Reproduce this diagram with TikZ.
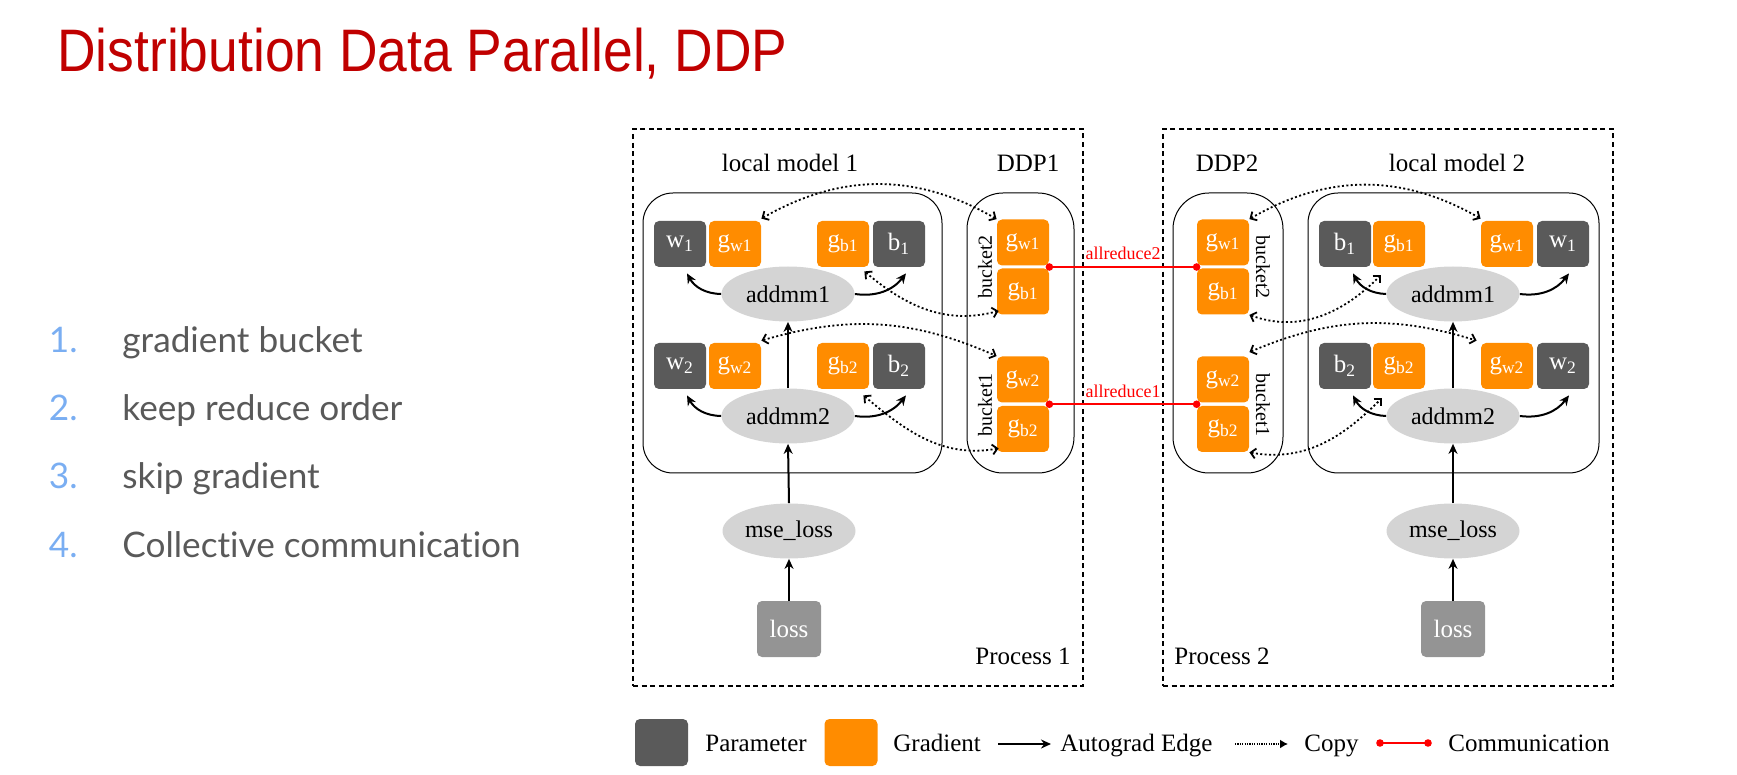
\documentclass[tikz,border=0pt]{standalone}
\usepackage{graphicx}
\usepackage{xcolor}
\usepackage{fontspec}
\setmainfont{Liberation Serif}
\newfontfamily\titlefont{Liberation Sans}
\newfontfamily\listfont[Ligatures=NoCommon]{Lato}
\usepackage{tikz}
\usetikzlibrary{shapes,arrows.meta,calc}

\definecolor{paramgray}{RGB}{90,90,90}
\definecolor{gradorange}{RGB}{255,140,0}
\definecolor{opgray}{RGB}{212,212,212}
\definecolor{lossgray}{RGB}{148,148,148}
\definecolor{titlered}{RGB}{192,0,0}
\definecolor{listblue}{RGB}{122,174,242}
\definecolor{listgray}{RGB}{89,89,89}
\definecolor{commred}{RGB}{255,0,0}

\tikzstyle{param} = [rectangle, rounded corners=2.5pt, fill=paramgray, text=white, minimum width=26pt, minimum height=23pt, inner sep=0pt, font=\fontsize{12.5}{14}\selectfont]
\tikzstyle{grad} = [param, fill=gradorange]
\tikzstyle{op} = [ellipse, fill=opgray, minimum width=66.5pt, minimum height=27.5pt, inner sep=0pt, font=\fontsize{12}{14}\selectfont]
\tikzstyle{lossbox} = [param, fill=lossgray, minimum width=32pt, minimum height=28pt]
\tikzstyle{group} = [rectangle, draw, line width=0.5pt, inner sep=0pt, minimum height=140pt]
\tikzstyle{process} = [rectangle, draw, line width=1pt, dash pattern=on 2.5pt off 1.8pt, inner sep=0pt, minimum width=225pt, minimum height=278.5pt]
\tikzstyle{txt} = [inner sep=0pt, font=\fontsize{12.5}{14}\selectfont]
\tikzstyle{bucketname} = [inner sep=0pt, font=\fontsize{10}{12}\selectfont]
\tikzstyle{autograd} = [draw, line width=1pt, -{Stealth[length=5pt,width=4.5pt]}]
\tikzstyle{copyedge} = [draw, line width=0.9pt, dash pattern=on 1pt off 1.2pt, {Straight Barb[length=2.5pt,width=5pt]}-{Straight Barb[length=2.5pt,width=5pt]}]
\tikzstyle{legcopy} = [draw, line width=0.8pt, dash pattern=on 0.6pt off 0.6pt, -{Latex[length=4pt,width=4.5pt]}]
\tikzstyle{comm} = [draw=commred, line width=1pt]
\tikzstyle{listnum} = [anchor=base east, inner sep=0pt, text=listblue, font=\listfont\fontsize{17.6}{20}\selectfont]
\tikzstyle{listitem} = [anchor=base west, inner sep=0pt, text=listgray, font=\listfont\fontsize{17.6}{20}\selectfont]

\begin{document}
\begin{tikzpicture}[x=0.5pt, y=0.5pt]
\useasboundingbox (0,0) rectangle (1737,-775);

\node [anchor=base west, inner sep=0pt, text=titlered, font=\titlefont\fontsize{30}{33}\selectfont] (title) at (57,-72) {\scalebox{0.89}[1]{Distribution Data Parallel, DDP}};

\node [listnum] (n1) at (78,-353) {1.};
\node [listitem] (i1) at (122,-353) {gradient bucket};
\node [listnum] (n2) at (78,-421) {2.};
\node [listitem] (i2) at (122,-421) {keep reduce order};
\node [listnum] (n3) at (78,-488) {3.};
\node [listitem] (i3) at (122,-488) {skip gradient};
\node [listnum] (n4) at (78,-558) {4.};
\node [listitem] (i4) at (122,-558) {Collective communication};

\node [process] (proc1) at (858,-407.5) {};
\node [process] (proc2) at (1388,-407.5) {};
\node [txt, anchor=east] (proc1Txt) at (1071,-656) {Process 1};
\node [txt, anchor=west] (proc2Txt) at (1174,-656) {Process 2};

\node [group, rounded corners=15pt, minimum width=149.5pt] (lm1) at (792.5,-333) {};
\node [group, rounded corners=18pt, minimum width=53.5pt] (ddp1) at (1020.5,-333) {};
\node [group, rounded corners=18pt, minimum width=55pt] (ddp2) at (1228,-333) {};
\node [group, rounded corners=15pt, minimum width=145.5pt] (lm2) at (1453.5,-333) {};
\node [txt] (lm1Txt) at (790,-163) {local model 1};
\node [txt] (ddp1Txt) at (1028,-163) {DDP1};
\node [txt] (ddp2Txt) at (1227,-163) {DDP2};
\node [txt] (lm2Txt) at (1457,-163) {local model 2};

\node [param] (p1w1) at (680,-244) {w\textsubscript{1}};
\node [grad] (p1gw1) at (735,-244) {g\textsubscript{w1}};
\node [grad] (p1gb1) at (843,-244) {g\textsubscript{b1}};
\node [param] (p1b1) at (899,-244) {b\textsubscript{1}};
\node [op] (p1addmm1) at (788,-294) {addmm1};
\node [param] (p1w2) at (680,-366) {w\textsubscript{2}};
\node [grad] (p1gw2) at (735,-366) {g\textsubscript{w2}};
\node [grad] (p1gb2) at (843,-366) {g\textsubscript{b2}};
\node [param] (p1b2) at (899,-366) {b\textsubscript{2}};
\node [op] (p1addmm2) at (788,-416) {addmm2};
\node [op] (p1mse) at (789,-531) {mse\_loss};
\node [lossbox] (p1loss) at (789,-629) {loss};

\node [grad] (ddp1gw1) at (1023,-242.5) {g\textsubscript{w1}};
\node [grad] (ddp1gb1) at (1023,-291.5) {g\textsubscript{b1}};
\node [grad] (ddp1gw2) at (1023,-379.5) {g\textsubscript{w2}};
\node [grad] (ddp1gb2) at (1023,-429) {g\textsubscript{b2}};
\node [bucketname, rotate=90] (ddp1bk2) at (985,-267) {bucket2};
\node [bucketname, rotate=90] (ddp1bk1) at (985,-405) {bucket1};

\node [grad] (ddp2gw1) at (1223,-242.5) {g\textsubscript{w1}};
\node [grad] (ddp2gb1) at (1223,-291.5) {g\textsubscript{b1}};
\node [grad] (ddp2gw2) at (1223,-379.5) {g\textsubscript{w2}};
\node [grad] (ddp2gb2) at (1223,-429) {g\textsubscript{b2}};
\node [bucketname, rotate=-90] (ddp2bk2) at (1263,-267) {bucket2};
\node [bucketname, rotate=-90] (ddp2bk1) at (1263,-405) {bucket1};

\node [param] (p2b1) at (1345,-244) {b\textsubscript{1}};
\node [grad] (p2gb1) at (1399,-244) {g\textsubscript{b1}};
\node [grad] (p2gw1) at (1507,-244) {g\textsubscript{w1}};
\node [param] (p2w1) at (1563,-244) {w\textsubscript{1}};
\node [op] (p2addmm1) at (1453,-294) {addmm1};
\node [param] (p2b2) at (1345,-366) {b\textsubscript{2}};
\node [grad] (p2gb2) at (1399,-366) {g\textsubscript{b2}};
\node [grad] (p2gw2) at (1507,-366) {g\textsubscript{w2}};
\node [param] (p2w2) at (1563,-366) {w\textsubscript{2}};
\node [op] (p2addmm2) at (1453,-416) {addmm2};
\node [op] (p2mse) at (1453,-531) {mse\_loss};
\node [lossbox] (p2loss) at (1453,-629) {loss};

\path [autograd] (p1addmm1.west) to[bend left=30] ([xshift=3.5pt,yshift=-3pt]p1w1.south);
\path [autograd] (p1addmm1.east) to[bend right=30] ([xshift=3.5pt,yshift=-3pt]p1b1.south);
\path [autograd] (p1addmm2.west) to[bend left=30] ([xshift=3.5pt,yshift=-3pt]p1w2.south);
\path [autograd] (p1addmm2.east) to[bend right=30] ([xshift=3.5pt,yshift=-3pt]p1b2.south);
\path [autograd] (p1addmm2.north) -- (p1addmm1.south);
\path [autograd] (p1mse.north) -- (p1addmm2.south);
\path [autograd] (p1loss.north) -- (p1mse.south);

\path [autograd] (p2addmm1.west) to[bend left=30] ([xshift=4pt,yshift=-3pt]p2b1.south);
\path [autograd] (p2addmm1.east) to[bend right=30] ([xshift=3pt,yshift=-3pt]p2w1.south);
\path [autograd] (p2addmm2.west) to[bend left=30] ([xshift=4pt,yshift=-3pt]p2b2.south);
\path [autograd] (p2addmm2.east) to[bend right=30] ([xshift=3pt,yshift=-3pt]p2w2.south);
\path [autograd] (p2addmm2.north) -- (p2addmm1.south);
\path [autograd] (p2mse.north) -- (p2addmm2.south);
\path [autograd] (p2loss.north) -- (p2mse.south);

\path [copyedge] ([yshift=1pt]p1gw1.north east) to[bend left=30] (ddp1gw1.north west);
\path [copyedge] ([xshift=-2.5pt,yshift=-2pt]p1gb1.south east) to[out=-40,in=195] ([xshift=1pt,yshift=2pt]ddp1gb1.south west);
\path [copyedge] ([yshift=1pt]p1gw2.north east) to[bend left=20] (ddp1gw2.north west);
\path [copyedge] ([xshift=-3pt,yshift=-3pt]p1gb2.south east) to[out=-40,in=190] ([xshift=1pt,yshift=2pt]ddp1gb2.south west);

\path [copyedge] (ddp2gw1.north east) to[bend left=30] ([yshift=1pt]p2gw1.north west);
\path [copyedge] (ddp2gb1.south east) to[out=-20,in=225] ([xshift=4pt,yshift=-4pt]p2gb1.south west);
\path [copyedge] ([yshift=2pt]ddp2gw2.north east) to[bend left=20] ([xshift=-2pt,yshift=1pt]p2gw2.north west);
\path [copyedge] (ddp2gb2.south east) to[out=-10,in=225] ([xshift=4.5pt,yshift=-4.5pt]p2gb2.south west);

\coordinate (c2a) at ($(ddp1gw1.south east)!0.5!(ddp1gb1.north east)$);
\coordinate (c2b) at ($(ddp2gw1.south west)!0.5!(ddp2gb1.north west)$);
\coordinate (c1a) at ($(ddp1gw2.south east)!0.5!(ddp1gb2.north east)$);
\coordinate (c1b) at ($(ddp2gw2.south west)!0.5!(ddp2gb2.north west)$);
\path [comm] (c2a) -- node[above=3pt, inner sep=0pt, text=commred, font=\fontsize{9}{10}\selectfont] (ar2) {allreduce2} (c2b);
\path [comm] (c1a) -- node[above=3pt, inner sep=0pt, text=commred, font=\fontsize{9}{10}\selectfont] (ar1) {allreduce1} (c1b);
\fill [commred] (c2a) circle (1.9pt) (c2b) circle (1.9pt) (c1a) circle (1.9pt) (c1b) circle (1.9pt);

\node [param, minimum width=26.5pt, minimum height=23.5pt] (legParam) at (661.5,-742.5) {};
\node [txt, anchor=base west] (legParamTxt) at (705,-751) {Parameter};
\node [grad, minimum width=26.5pt, minimum height=23.5pt] (legGrad) at (851,-742.5) {};
\node [txt, anchor=base west] (legGradTxt) at (893,-751) {Gradient};
\coordinate (legAgA) at (998,-744);
\coordinate (legAgB) at (1051,-744);
\path [autograd, line width=0.8pt] (legAgA) -- (legAgB);
\node [txt, anchor=base west] (legAgTxt) at (1060,-751) {Autograd Edge};
\coordinate (legCpA) at (1235,-744);
\coordinate (legCpB) at (1288,-744);
\path [legcopy] (legCpA) -- (legCpB);
\node [txt, anchor=base west] (legCpTxt) at (1304,-751) {Copy};
\coordinate (legCmA) at (1380,-743);
\coordinate (legCmB) at (1428,-743);
\path [comm] (legCmA) -- (legCmB);
\fill [commred] (legCmA) circle (1.9pt) (legCmB) circle (1.9pt);
\node [txt, anchor=base west] (legCmTxt) at (1448,-751) {Communication};
\end{tikzpicture}
\end{document}
